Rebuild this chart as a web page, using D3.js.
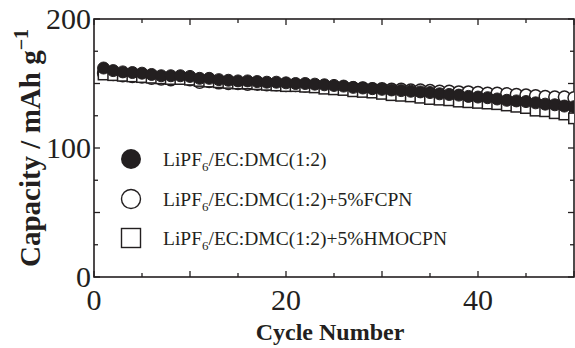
<!DOCTYPE html>
<html>
<head>
<meta charset="utf-8">
<script src="https://cdn.jsdelivr.net/npm/d3@7"></script>
<style>
  body { margin: 0; background: #fff; }
  svg { display: block; }
  text { font-family: "Liberation Serif", "DejaVu Serif", serif; fill: #231f20; }
</style>
</head>
<body>
<div id="chart"></div>
<script>
const cycles = d3.range(1, 51);

const baseline = [162, 160, 159, 158.5, 158, 157, 156, 156, 156, 155.5,
  154, 154, 153, 152.5, 152, 152, 151.5, 151, 151, 150.5,
  150, 150, 149.5, 149, 148.5, 148, 147, 146.5, 146, 145.5,
  145, 144.5, 144, 143.5, 143, 142, 141.5, 141, 140, 139.5,
  139, 138, 137, 136.5, 136, 135, 134, 133.5, 132.5, 132];

const fcpn = [158, 157, 156, 155.5, 155, 154, 153.5, 153, 154, 153,
  151, 151.5, 150.5, 150, 150, 149.5, 149.5, 149, 149, 148.5,
  148.5, 148, 148, 147.5, 147, 147, 146.5, 146.5, 146, 146,
  145.5, 145.5, 145, 145, 144.5, 144, 144, 143.5, 143.5, 143,
  142.5, 142.5, 142, 141.5, 141, 140.5, 140, 139.5, 139.5, 139];

const hmocpn = [157, 156.5, 156, 155.5, 155, 154.5, 154, 153.5, 153.5, 153,
  152, 151.5, 151, 150.5, 150, 150, 149.5, 149, 148.5, 148,
  148, 147.5, 147, 146, 145.5, 145, 144, 143.5, 143, 142,
  141, 140.5, 140, 139, 138, 137.5, 137, 136, 135.5, 135,
  134.5, 134, 133, 132, 131, 129, 128.5, 127, 126, 123];

const legendLabels = ['LiPF', '/EC:DMC(1:2)', '/EC:DMC(1:2)+5%FCPN', '/EC:DMC(1:2)+5%HMOCPN'];
const xTickLabels = [0, 20, 40];
const yTickLabels = [0, 100, 200];

const W = 575, H = 348;
const m = { top: 19, right: 1, bottom: 71, left: 94 };
const iw = W - m.left - m.right;
const ih = H - m.top - m.bottom;
const ink = '#231f20';

const svg = d3.select('#chart').append('svg')
  .attr('width', W).attr('height', H);

const x = d3.scaleLinear().domain([0, 50]).range([0, iw]);
const y = d3.scaleLinear().domain([0, 200]).range([ih, 0]);

const g = svg.append('g').attr('transform', 'translate(' + m.left + ',' + m.top + ')');

g.append('clipPath').attr('id', 'clip')
  .append('rect').attr('width', iw).attr('height', ih);

// ticks on all four sides, pointing in
const xMinor = d3.range(0, 51, 5);
const yMinor = d3.range(0, 201, 25);
const tickLen = (major) => (major ? 6 : 4);

const ticks = g.append('g').attr('stroke', ink).attr('stroke-width', 1.3);
xMinor.forEach((v) => {
  const L = tickLen(v % 10 === 0);
  ticks.append('line').attr('x1', x(v)).attr('x2', x(v)).attr('y1', ih).attr('y2', ih - L);
  ticks.append('line').attr('x1', x(v)).attr('x2', x(v)).attr('y1', 0).attr('y2', L);
});
yMinor.forEach((v) => {
  const L = tickLen(v % 50 === 0);
  ticks.append('line').attr('y1', y(v)).attr('y2', y(v)).attr('x1', 0).attr('x2', L);
  ticks.append('line').attr('y1', y(v)).attr('y2', y(v)).attr('x1', iw).attr('x2', iw - L);
});

g.append('rect').attr('width', iw).attr('height', ih)
  .attr('fill', 'none').attr('stroke', ink).attr('stroke-width', 1.6);

// tick labels
g.selectAll('.xl').data(xTickLabels).enter().append('text')
  .attr('x', (d) => x(d)).attr('y', ih + 33)
  .attr('text-anchor', 'middle').attr('font-size', 30).text((d) => d);
g.selectAll('.yl').data(yTickLabels).enter().append('text')
  .attr('x', -3).attr('y', (d) => y(d) + 10)
  .attr('text-anchor', 'end').attr('font-size', 30).text((d) => d);

// axis titles
svg.append('text').attr('x', 330).attr('y', 340)
  .attr('text-anchor', 'middle').attr('font-size', 24).attr('font-weight', 'bold')
  .text('Cycle Number');

const yt = svg.append('text')
  .attr('transform', 'translate(40,' + (m.top + ih / 2) + ') rotate(-90)')
  .attr('text-anchor', 'middle').attr('font-size', 29).attr('font-weight', 'bold');
yt.append('tspan').text('Capacity / mAh g');
yt.append('tspan').attr('dy', -12).attr('font-size', 20).text('\u22121');

// data
const plot = g.append('g').attr('clip-path', 'url(#clip)');
const rC = 6, sq = 10.5;

const pts = (vals) => cycles.map((c, i) => ({ c: c, v: vals[i] }));

plot.selectAll('.fcpn').data(pts(fcpn)).enter().append('circle')
  .attr('cx', (d) => x(d.c)).attr('cy', (d) => y(d.v)).attr('r', rC)
  .attr('fill', '#fff').attr('stroke', ink).attr('stroke-width', 1.5);

plot.selectAll('.hm').data(pts(hmocpn)).enter().append('rect')
  .attr('x', (d) => x(d.c) - sq / 2).attr('y', (d) => y(d.v) - sq / 2)
  .attr('width', sq).attr('height', sq)
  .attr('fill', '#fff').attr('stroke', ink).attr('stroke-width', 1.5);

plot.selectAll('.base').data(pts(baseline)).enter().append('circle')
  .attr('cx', (d) => x(d.c)).attr('cy', (d) => y(d.v)).attr('r', rC)
  .attr('fill', ink).attr('stroke', ink).attr('stroke-width', 1);

// legend
const legend = svg.append('g');
const legY = [159, 199, 238];
const lx = 131, tx = 163;
legend.append('circle').attr('cx', lx).attr('cy', legY[0]).attr('r', 10).attr('fill', ink);
legend.append('circle').attr('cx', lx).attr('cy', legY[1]).attr('r', 9.5)
  .attr('fill', '#fff').attr('stroke', ink).attr('stroke-width', 1.4);
legend.append('rect').attr('x', lx - 9.5).attr('y', legY[2] - 9.5).attr('width', 19).attr('height', 19)
  .attr('fill', '#fff').attr('stroke', ink).attr('stroke-width', 1.4);

legendLabels.slice(1).forEach((lab, i) => {
  const t = legend.append('text').attr('x', tx).attr('y', legY[i] + 7).attr('font-size', 19.5);
  t.append('tspan').text(legendLabels[0]);
  t.append('tspan').attr('dy', 5).attr('font-size', 13).text('6');
  t.append('tspan').attr('dy', -5).text(lab);
});
</script>
</body>
</html>
